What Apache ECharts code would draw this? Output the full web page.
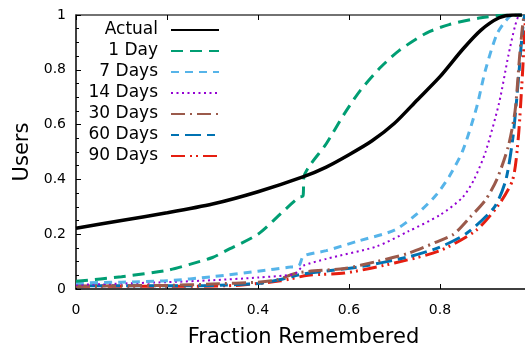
<!DOCTYPE html>
<html>
<head>
<meta charset="utf-8">
<script src="https://cdn.jsdelivr.net/npm/echarts@6/dist/echarts.min.js"></script>
<style>
  html, body { margin: 0; padding: 0; background: #fff; }
  #chart { width: 525px; height: 343px; }
</style>
</head>
<body>
<div id="chart"></div>
<script>
// [fraction remembered, share of users]
const actual = [[0, 0.222], [0.1, 0.25], [0.2, 0.278], [0.3, 0.31], [0.4, 0.355], [0.5, 0.41], [0.55, 0.445], [0.6, 0.49], [0.65, 0.54], [0.7, 0.605], [0.75, 0.69], [0.8, 0.775], [0.85, 0.875], [0.89, 0.945], [0.93, 0.99], [0.96, 1], [0.98, 1]];
const day1 = [[0, 0.028], [0.1, 0.045], [0.2, 0.068], [0.25, 0.09], [0.3, 0.115], [0.33, 0.14], [0.4, 0.2], [0.45, 0.275], [0.49, 0.335], [0.499, 0.34], [0.501, 0.41], [0.55, 0.53], [0.59, 0.64], [0.625, 0.725], [0.67, 0.81], [0.71, 0.87], [0.77, 0.934], [0.82, 0.965], [0.89, 0.99], [0.95, 1], [0.98, 1]];
const day7 = [[0, 0.022], [0.1, 0.025], [0.2, 0.03], [0.3, 0.045], [0.4, 0.065], [0.47, 0.08], [0.49, 0.085], [0.5, 0.12], [0.55, 0.14], [0.62, 0.175], [0.7, 0.215], [0.75, 0.275], [0.79, 0.34], [0.82, 0.41], [0.85, 0.505], [0.88, 0.66], [0.9, 0.8], [0.925, 0.93], [0.945, 0.98], [0.96, 1], [0.98, 1]];
const day14 = [[0, 0.015], [0.1, 0.02], [0.2, 0.025], [0.3, 0.032], [0.4, 0.042], [0.48, 0.055], [0.5, 0.085], [0.55, 0.11], [0.66, 0.155], [0.73, 0.21], [0.8, 0.27], [0.85, 0.335], [0.875, 0.4], [0.9, 0.5], [0.93, 0.68], [0.95, 0.85], [0.965, 0.96], [0.975, 1], [0.98, 1]];
const day30 = [[0, 0.01], [0.1, 0.012], [0.2, 0.013], [0.3, 0.018], [0.4, 0.025], [0.44, 0.033], [0.49, 0.06], [0.59, 0.075], [0.66, 0.1], [0.73, 0.13], [0.79, 0.17], [0.83, 0.2], [0.865, 0.26], [0.9, 0.325], [0.925, 0.4], [0.95, 0.52], [0.965, 0.65], [0.975, 0.85], [0.982, 0.97], [0.985, 1]];
const day60 = [[0, 0.012], [0.2, 0.012], [0.3, 0.013], [0.4, 0.02], [0.45, 0.035], [0.5, 0.055], [0.62, 0.08], [0.73, 0.117], [0.8, 0.153], [0.86, 0.205], [0.92, 0.3], [0.945, 0.4], [0.96, 0.55], [0.97, 0.72], [0.978, 0.88], [0.983, 0.97], [0.986, 1]];
const day90 = [[0, 0.01], [0.2, 0.01], [0.35, 0.013], [0.45, 0.03], [0.51, 0.05], [0.59, 0.058], [0.7, 0.095], [0.8, 0.14], [0.88, 0.215], [0.93, 0.31], [0.96, 0.4], [0.972, 0.55], [0.98, 0.75], [0.985, 0.9], [0.988, 1]];

const names = ["Actual", "1 Day", "7 Days", "14 Days", "30 Days", "60 Days", "90 Days"];
const seriesData = [actual, day1, day7, day14, day30, day60, day90];
const colors = ["#000000", "#009e73", "#56b4e9", "#9400d3", "#9b5a4b", "#0072b2", "#e51e10"];
const dashes = ["solid", [12, 7], [8, 6], [2, 3.5], [14, 5, 2, 5], [8, 6, 16, 6], [14, 5, 2, 4, 2, 5]];
const widths = [3.5, 3, 3, 2, 3, 3, 3];

const font = "DejaVu Sans";
const chart = echarts.init(document.getElementById("chart"), undefined, { renderer: "canvas" });
chart.setOption({
  animation: false,
  textStyle: { fontFamily: font },
  grid: { left: 76, right: -6, top: 15, bottom: 54, outerBoundsMode: "none", containLabel: false },
  legend: {
    orient: "vertical",
    align: "right",
    right: 305,
    top: 21,
    padding: 0,
    itemWidth: 48,
    itemHeight: 10,
    itemGap: 3,
    itemStyle: { opacity: 0 },
    textStyle: { fontFamily: font, fontSize: 17, lineHeight: 18, color: "#000", padding: [0, 8, 0, 0] },
    data: names,
  },
  xAxis: [
    {
      type: "value",
      min: 0,
      max: 1,
      interval: 0.2,
      name: "Fraction Remembered",
      nameLocation: "middle",
      nameGap: 38,
      nameTextStyle: { fontFamily: font, fontSize: 21, color: "#000" },
      axisLine: { lineStyle: { color: "#000", width: 1.5 } },
      axisTick: { inside: true, length: 5, lineStyle: { color: "#000" } },
      axisLabel: { fontFamily: font, fontSize: 14, color: "#000", margin: 14, showMaxLabel: false },
      splitLine: { show: false },
    },
    {
      type: "value",
      position: "top",
      min: 0,
      max: 1,
      interval: 0.2,
      axisLine: { show: true, lineStyle: { color: "#444", width: 1.5 } },
      axisTick: { inside: true, length: 5, lineStyle: { color: "#000" } },
      axisLabel: { show: false },
      splitLine: { show: false },
    },
  ],
  yAxis: {
    type: "value",
    min: 0,
    max: 1,
    interval: 0.2,
    name: "Users",
    nameLocation: "middle",
    nameGap: 39,
    nameTextStyle: { fontFamily: font, fontSize: 21, color: "#000" },
    axisLine: { show: true, lineStyle: { color: "#000", width: 1.5 } },
    axisTick: { inside: true, length: 5, lineStyle: { color: "#000" } },
    minorTick: { show: true, splitNumber: 4, length: 3, lineStyle: { color: "#000" } },
    axisLabel: { fontFamily: font, fontSize: 14, color: "#000", margin: 10 },
    splitLine: { show: false },
  },
  series: names.map((name, i) => ({
    name,
    type: "line",
    data: seriesData[i],
    symbol: "none",
    smooth: 0.25,
    z: 10 - i,
    lineStyle: { color: colors[i], width: widths[i], type: dashes[i] },
    itemStyle: { color: colors[i] },
  })),
});
</script>
</body>
</html>
